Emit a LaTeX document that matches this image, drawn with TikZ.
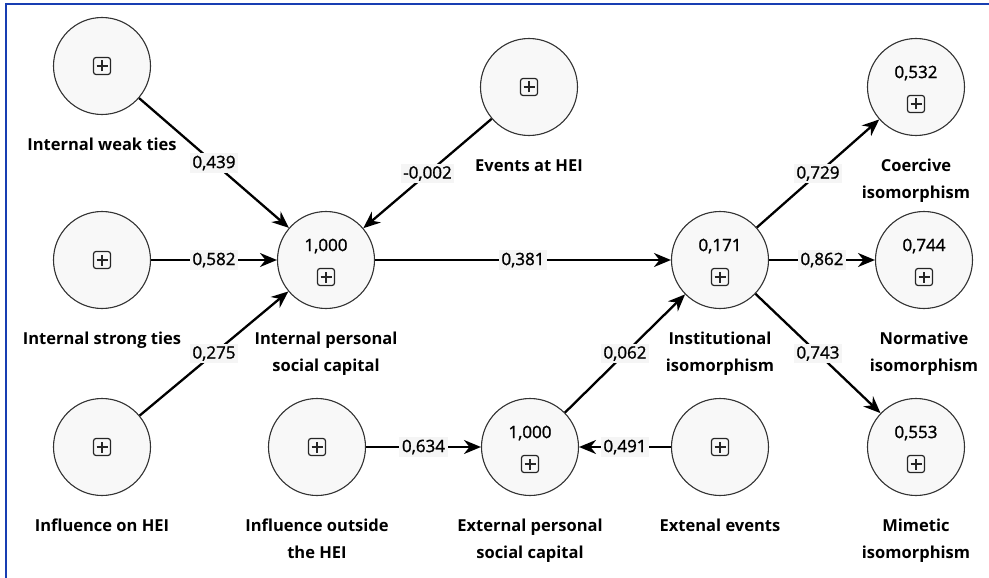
\documentclass[tikz,border=0pt]{standalone}
\usepackage{fontspec}
\setmainfont{Open Sans}
\newfontfamily\numfont[FakeBold=1.3]{Open Sans}
\usetikzlibrary{arrows.meta,positioning}

\definecolor{frameblue}{RGB}{24,62,178}
\definecolor{latentfill}{RGB}{248,248,248}

\begin{document}
\begin{tikzpicture}[x=1pt, y=-1pt, >={Stealth[length=17pt,width=14pt]},
  latent/.style={circle, draw=black!80, line width=1.1pt, fill=latentfill, minimum size=97pt, inner sep=0pt},
  caption/.style={font=\fontsize{16.5}{27}\selectfont\bfseries, align=center, anchor=north, inner sep=0pt},
  coef/.style={font=\fontsize{17}{18}\selectfont\numfont, fill=black!4, inner sep=2.5pt},
  rsq/.style={font=\fontsize{17}{18}\selectfont\numfont, inner sep=0pt},
  plusbox/.style={draw=black!85, rounded corners=2.5pt, line width=1.2pt, minimum size=17pt, inner sep=0pt,
    path picture={\draw[line width=1.2pt] (path picture bounding box.center) ++(-5.5pt,0) -- ++(11pt,0)
      (path picture bounding box.center) ++(0,-5.5pt) -- ++(0,11pt);}},
  link/.style={->, line width=2.3pt}]
  \useasboundingbox (0,0) rectangle (989,578);
  \draw[frameblue, line width=2pt] (6,578) -- (6,4.5) -- (989,4.5);

  % exogenous constructs
  \node[latent] (iwt) at (102,66) {};
  \node[latent] (ist) at (102,260) {};
  \node[latent] (ionhei) at (102,447) {};
  \node[latent] (evhei) at (529,87) {};
  \node[latent] (iouthei) at (317,447) {};
  \node[latent] (extev) at (720,447) {};
  \foreach \n in {iwt,ist,ionhei,evhei,iouthei,extev}
    \node[plusbox] (\n-box) at (\n) {};

  % endogenous constructs with R^2
  \node[latent] (ipsc) at (326,260) {};
  \node[latent] (epsc) at (530,447) {};
  \node[latent] (inst) at (720,260) {};
  \node[latent] (coer) at (916,87) {};
  \node[latent] (norm) at (924,260) {};
  \node[latent] (mim) at (916,447) {};
  \foreach \n/\v in {ipsc/{1,000},epsc/{1,000},inst/{0,171},coer/{0,532},norm/{0,744},mim/{0,553}} {
    \node[rsq, yshift=14pt] (\n-val) at (\n) {\v};
    \node[plusbox, yshift=-17pt] (\n-box) at (\n) {};
  }

  % captions
  \node[caption, below=23pt of iwt] (iwt-lbl) {Internal weak ties};
  \node[caption, below=23pt of ist] (ist-lbl) {Internal strong ties};
  \node[caption, below=23pt of ionhei] (ionhei-lbl) {Influence on HEI};
  \node[caption, below=23pt of evhei] (evhei-lbl) {Events at HEI};
  \node[caption, below=23pt of iouthei] (iouthei-lbl) {Influence outside\\the HEI};
  \node[caption, below=23pt of extev] (extev-lbl) {Extenal events};
  \node[caption, below=23pt of ipsc] (ipsc-lbl) {Internal personal\\social capital};
  \node[caption, below=23pt of epsc] (epsc-lbl) {External personal\\social capital};
  \node[caption, below=23pt of inst] (inst-lbl) {Institutional\\isomorphism};
  \node[caption, below=23pt of coer] (coer-lbl) {Coercive\\isomorphism};
  \node[caption, below=23pt of norm] (norm-lbl) {Normative\\isomorphism};
  \node[caption, below=23pt of mim] (mim-lbl) {Mimetic\\isomorphism};

  % paths
  \draw[link] (iwt) -- node[coef] (p1) {0,439} (ipsc);
  \draw[link] (ist) -- node[coef] (p2) {0,582} (ipsc);
  \draw[link] (ionhei) -- node[coef] (p3) {0,275} (ipsc);
  \draw[link] (evhei) -- node[coef] (p4) {-0,002} (ipsc);
  \draw[link] (ipsc) -- node[coef] (p5) {0,381} (inst);
  \draw[link] (iouthei) -- node[coef] (p6) {0,634} (epsc);
  \draw[link] (extev) -- node[coef] (p7) {0,491} (epsc);
  \draw[link] (epsc) -- node[coef] (p8) {0,062} (inst);
  \draw[link] (inst) -- node[coef] (p9) {0,729} (coer);
  \draw[link] (inst) -- node[coef] (p10) {0,862} (norm);
  \draw[link] (inst) -- node[coef] (p11) {0,743} (mim);
\end{tikzpicture}
\end{document}
